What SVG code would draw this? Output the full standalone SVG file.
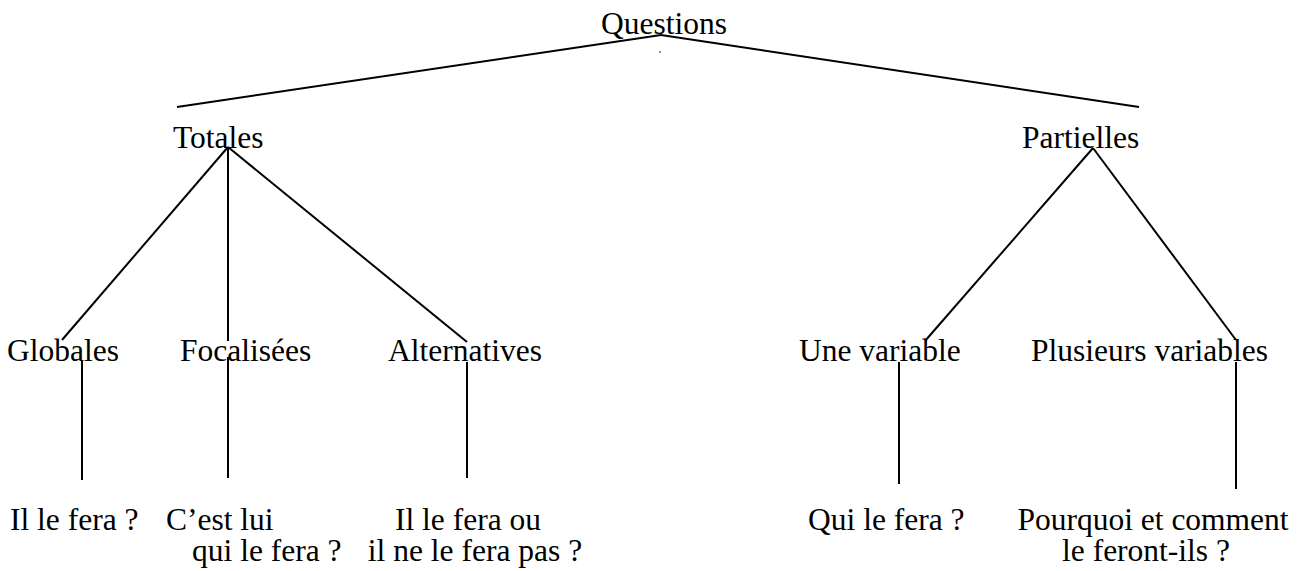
<svg xmlns="http://www.w3.org/2000/svg" width="1299" height="571" viewBox="0 0 1299 571">
<style>
text{font-family:"Liberation Serif","Times New Roman",serif;font-size:31.5px;fill:#000}
.c line{stroke:#000;stroke-width:2;fill:none}
</style>
<rect width="1299" height="571" fill="#fff"/>
<g class="c" id="connectors">
<line x1="661" y1="35" x2="177" y2="107"/>
<line x1="661" y1="35" x2="1139" y2="107"/>
<line x1="228" y1="147" x2="62" y2="340"/>
<line x1="228" y1="147" x2="228" y2="341"/>
<line x1="228" y1="147" x2="467" y2="342"/>
<line x1="1093" y1="148" x2="925" y2="341"/>
<line x1="1093" y1="148" x2="1236" y2="340"/>
<line x1="82" y1="361" x2="82" y2="480"/>
<line x1="228" y1="357" x2="228" y2="478"/>
<line x1="467" y1="362" x2="467" y2="478"/>
<line x1="899" y1="362" x2="899" y2="484"/>
<line x1="1236" y1="362" x2="1236" y2="489"/>
</g>
<circle cx="660" cy="52" r="0.8" fill="#000"/>
<g id="questions"><text x="601" y="34">Questions</text></g>
<g id="totales"><text x="173" y="148">Totales</text></g>
<g id="partielles"><text x="1022" y="148">Partielles</text></g>
<g id="globales"><text x="7" y="361">Globales</text></g>
<g id="focalisees"><text x="180" y="361">Focalisées</text></g>
<g id="alternatives"><text x="388" y="361">Alternatives</text></g>
<g id="une-variable"><text x="799" y="361">Une variable</text></g>
<g id="plusieurs-variables"><text x="1031" y="361">Plusieurs variables</text></g>
<g id="ex-globales"><text x="10" y="530">Il le fera ?</text></g>
<g id="ex-focalisees"><text x="166" y="530">C’est lui</text><text x="192" y="561">qui le fera ?</text></g>
<g id="ex-alternatives"><text x="468" y="530" text-anchor="middle">Il le fera ou</text><text x="475" y="561" text-anchor="middle">il ne le fera pas ?</text></g>
<g id="ex-une"><text x="808" y="530">Qui le fera ?</text></g>
<g id="ex-plusieurs"><text x="1153" y="530" text-anchor="middle">Pourquoi et comment</text><text x="1146" y="561" text-anchor="middle">le feront-ils ?</text></g>
</svg>
